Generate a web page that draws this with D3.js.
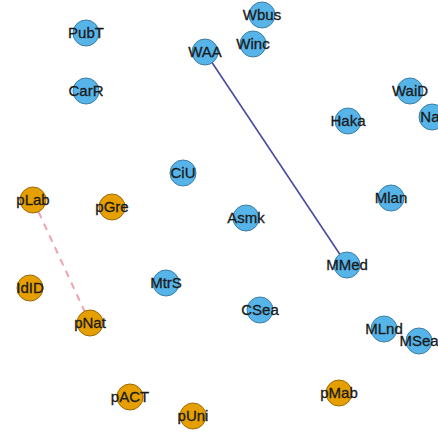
<!DOCTYPE html>
<html>
<head>
<meta charset="utf-8">
<script src="https://cdn.jsdelivr.net/npm/d3@7"></script>
<style>
  body { margin: 0; background: #fff; }
</style>
</head>
<body>
<div id="graph"></div>
<script>
// node names, groups and layout coordinates (layout units)
var nodeNames = ['PubT', 'CarR', 'WAA', 'Wbus', 'Winc', 'WaiD', 'Nat', 'Haka',
  'CiU', 'pLab', 'pGre', 'Asmk', 'Mlan', 'IdID', 'MtrS', 'MMed', 'CSea',
  'pNat', 'MLnd', 'MSea', 'pACT', 'pMab', 'pUni'];
var nodeGroups = ['a', 'a', 'a', 'a', 'a', 'a', 'a', 'a',
  'a', 'b', 'b', 'a', 'a', 'b', 'a', 'a', 'a',
  'b', 'a', 'a', 'b', 'b', 'b'];
var nodeX = [86, 86, 205, 262, 253, 410, 432, 348,
  183, 33, 112, 246, 391, 30, 166, 347, 260,
  90, 384, 419, 130, 339, 193];
var nodeY = [33, 91, 52, 15, 44, 91, 117, 121,
  173, 200, 207, 218, 198, 288, 283, 265, 310,
  323, 329, 341, 397, 393, 416];

// edges: source, target, kind
var linkSource = ['WAA', 'pLab'];
var linkTarget = ['MMed', 'pNat'];
var linkKind = ['solid', 'dashed'];

var width = 438;
var height = 432;

var svg = d3.select('#graph')
  .append('svg')
  .attr('width', width)
  .attr('height', height);

var xScale = d3.scaleLinear().domain([0, 438]).range([0, width]);
var yScale = d3.scaleLinear().domain([0, 432]).range([0, height]);

var fillColor = d3.scaleOrdinal().domain(['a', 'b']).range(['#56B4E9', '#E69F00']);
var strokeColor = d3.scaleOrdinal().domain(['a', 'b']).range(['#3b7fa6', '#9c6c08']);

var nodes = nodeNames.map(function(n, i) {
  return { name: n, group: nodeGroups[i], x: nodeX[i], y: nodeY[i] };
});
var byName = {};
nodes.forEach(function(d) { byName[d.name] = d; });

var links = linkSource.map(function(s, i) {
  return { source: byName[s], target: byName[linkTarget[i]], kind: linkKind[i] };
});

// edges
svg.append('g')
  .selectAll('line')
  .data(links)
  .enter()
  .append('line')
  .attr('x1', function(d) { return xScale(d.source.x); })
  .attr('y1', function(d) { return yScale(d.source.y); })
  .attr('x2', function(d) { return xScale(d.target.x); })
  .attr('y2', function(d) { return yScale(d.target.y); })
  .attr('stroke', function(d) { return d.kind == 'solid' ? '#4b4b9c' : '#f4a0b0'; })
  .attr('stroke-width', function(d) { return d.kind == 'solid' ? 1.6 : 2; })
  .attr('stroke-dasharray', function(d) { return d.kind == 'solid' ? null : '7,6'; });

// nodes
var node = svg.append('g')
  .selectAll('g')
  .data(nodes)
  .enter()
  .append('g')
  .attr('transform', function(d) { return 'translate(' + xScale(d.x) + ',' + yScale(d.y) + ')'; });

node.append('circle')
  .attr('r', 13)
  .attr('fill', function(d) { return fillColor(d.group); })
  .attr('stroke', function(d) { return strokeColor(d.group); })
  .attr('stroke-width', 1);

node.append('text')
  .text(function(d) { return d.name; })
  .attr('text-anchor', 'middle')
  .attr('dy', '0.36em')
  .attr('font-family', 'Liberation Sans, Arial, sans-serif')
  .attr('font-size', '15px')
  .attr('fill', '#1a1a1a')
  .attr('stroke', '#1a1a1a')
  .attr('stroke-width', 0.3);
</script>
</body>
</html>
